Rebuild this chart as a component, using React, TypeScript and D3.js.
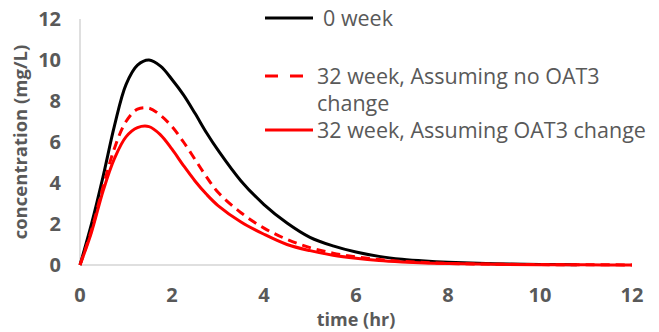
import * as d3 from 'd3';
import { useRef, useEffect } from 'react';

// time points (hr) and concentrations (mg/L)
const timeBlack = [0, 0.25, 0.5, 0.75, 1.0, 1.25, 1.5, 1.75, 2.0, 2.25, 2.5, 2.75, 3.0, 3.5, 4.0, 4.5, 5.0, 5.5, 6.0, 6.5, 7.0, 7.5, 8.0, 9.0, 10.0, 10.8];
const week0 = [0, 2.0, 4.3, 6.8, 8.8, 9.75, 10.0, 9.7, 9.05, 8.3, 7.4, 6.45, 5.6, 4.1, 2.95, 2.05, 1.35, 0.93, 0.63, 0.42, 0.28, 0.19, 0.13, 0.06, 0.03, 0.015];

const timeRed = [0, 0.25, 0.5, 0.75, 1.0, 1.25, 1.5, 1.75, 2.0, 2.25, 2.5, 2.75, 3.0, 3.5, 4.0, 4.5, 5.0, 5.5, 6.0, 6.5, 7.0, 7.5, 8.0, 9.0, 10.0, 11.0, 12.0];
const week32NoChange = [0, 1.7, 3.8, 5.7, 7.0, 7.6, 7.65, 7.3, 6.75, 6.0, 5.15, 4.3, 3.55, 2.55, 1.8, 1.25, 0.85, 0.58, 0.4, 0.27, 0.18, 0.12, 0.08, 0.04, 0.02, 0.01, 0.005];
const week32Change = [0, 1.6, 3.6, 5.2, 6.25, 6.7, 6.75, 6.35, 5.65, 4.85, 4.1, 3.45, 2.9, 2.1, 1.5, 1.0, 0.7, 0.48, 0.33, 0.22, 0.15, 0.1, 0.07, 0.035, 0.017, 0.008, 0.004];

const xTicks = [0, 2, 4, 6, 8, 10, 12];
const yTicks = [0, 2, 4, 6, 8, 10, 12];

const seriesNames = ['0 week', '32 week, Assuming no OAT3', '32 week, Assuming OAT3 change'];

export default function App() {
    const ref = useRef<SVGSVGElement>(null);

    useEffect(() => {
        const width = 659;
        const height = 332;
        const svg = d3.select(ref.current);
        svg.selectAll('*').remove();
        svg.attr('width', width).attr('height', height);

        const font = "'Open Sans', sans-serif";
        const grey = '#595959';

        const x = d3.scaleLinear().domain([0, 12]).range([80, 632]);
        const y = d3.scaleLinear().domain([0, 12]).range([265, 19]);

        // axis lines
        svg.append('line')
            .attr('x1', x(0)).attr('x2', x(0))
            .attr('y1', y(12)).attr('y2', y(0))
            .attr('stroke', '#bfbfbf').attr('stroke-width', 1);
        svg.append('line')
            .attr('x1', x(0)).attr('x2', x(12))
            .attr('y1', y(0)).attr('y2', y(0))
            .attr('stroke', '#bfbfbf').attr('stroke-width', 1);

        // tick labels
        svg.selectAll('text.ytick')
            .data(yTicks)
            .enter()
            .append('text')
            .attr('class', 'ytick')
            .attr('x', 61)
            .attr('y', d => y(d))
            .attr('dy', '0.36em')
            .attr('text-anchor', 'end')
            .style('font-family', font)
            .style('font-size', '20px')
            .style('font-weight', 'bold')
            .attr('fill', grey)
            .text(d => d);

        svg.selectAll('text.xtick')
            .data(xTicks)
            .enter()
            .append('text')
            .attr('class', 'xtick')
            .attr('x', d => x(d))
            .attr('y', 302)
            .attr('text-anchor', 'middle')
            .style('font-family', font)
            .style('font-size', '20px')
            .style('font-weight', 'bold')
            .attr('fill', grey)
            .text(d => d);

        // axis titles
        svg.append('text')
            .attr('x', 356)
            .attr('y', 326)
            .attr('text-anchor', 'middle')
            .style('font-family', font)
            .style('font-size', '18px')
            .style('font-weight', 'bold')
            .attr('fill', grey)
            .text('time (hr)');

        svg.append('text')
            .attr('transform', `translate(27, 142) rotate(-90)`)
            .attr('text-anchor', 'middle')
            .style('font-family', font)
            .style('font-size', '18.5px')
            .style('font-weight', 'bold')
            .attr('fill', grey)
            .text('concentration (mg/L)');

        // curves
        const line = d3.line<[number, number]>()
            .x(d => x(d[0]))
            .y(d => y(d[1]))
            .curve(d3.curveCatmullRom.alpha(0.5));

        const series = [
            { pts: timeBlack.map((t, i) => [t, week0[i]] as [number, number]), color: '#000000', dash: null },
            { pts: timeRed.map((t, i) => [t, week32NoChange[i]] as [number, number]), color: '#ff0000', dash: '9,6' },
            { pts: timeRed.map((t, i) => [t, week32Change[i]] as [number, number]), color: '#ff0000', dash: null }
        ];

        svg.selectAll('path.curve')
            .data(series)
            .enter()
            .append('path')
            .attr('class', 'curve')
            .attr('d', d => line(d.pts))
            .attr('fill', 'none')
            .attr('stroke', d => d.color)
            .attr('stroke-width', 3)
            .attr('stroke-dasharray', d => d.dash)
            .attr('stroke-linejoin', 'round');

        // legend
        const legendY = [18, 76, 130];
        const legend = svg.append('g');
        legend.selectAll('line')
            .data(series)
            .enter()
            .append('line')
            .attr('x1', 265).attr('x2', d => (d.dash ? 303 : 313))
            .attr('y1', (d, i) => legendY[i]).attr('y2', (d, i) => legendY[i])
            .attr('stroke', d => d.color)
            .attr('stroke-width', 3)
            .attr('stroke-dasharray', d => (d.dash ? '13,12' : null));

        legend.selectAll('text')
            .data(seriesNames)
            .enter()
            .append('text')
            .attr('x', (d, i) => (i === 0 ? 323 : 317))
            .attr('y', (d, i) => legendY[i])
            .attr('dy', '0.35em')
            .style('font-family', font)
            .style('font-size', '21.5px')
            .attr('fill', grey)
            .text(d => d);

        legend.append('text')
            .attr('x', 317)
            .attr('y', 103)
            .attr('dy', '0.35em')
            .style('font-family', font)
            .style('font-size', '21.5px')
            .attr('fill', grey)
            .text('change');
    }, []);

    return (
        <svg ref={ref} style={{ position: 'absolute', left: 0, top: 0, background: '#fff' }}></svg>
    );
}
